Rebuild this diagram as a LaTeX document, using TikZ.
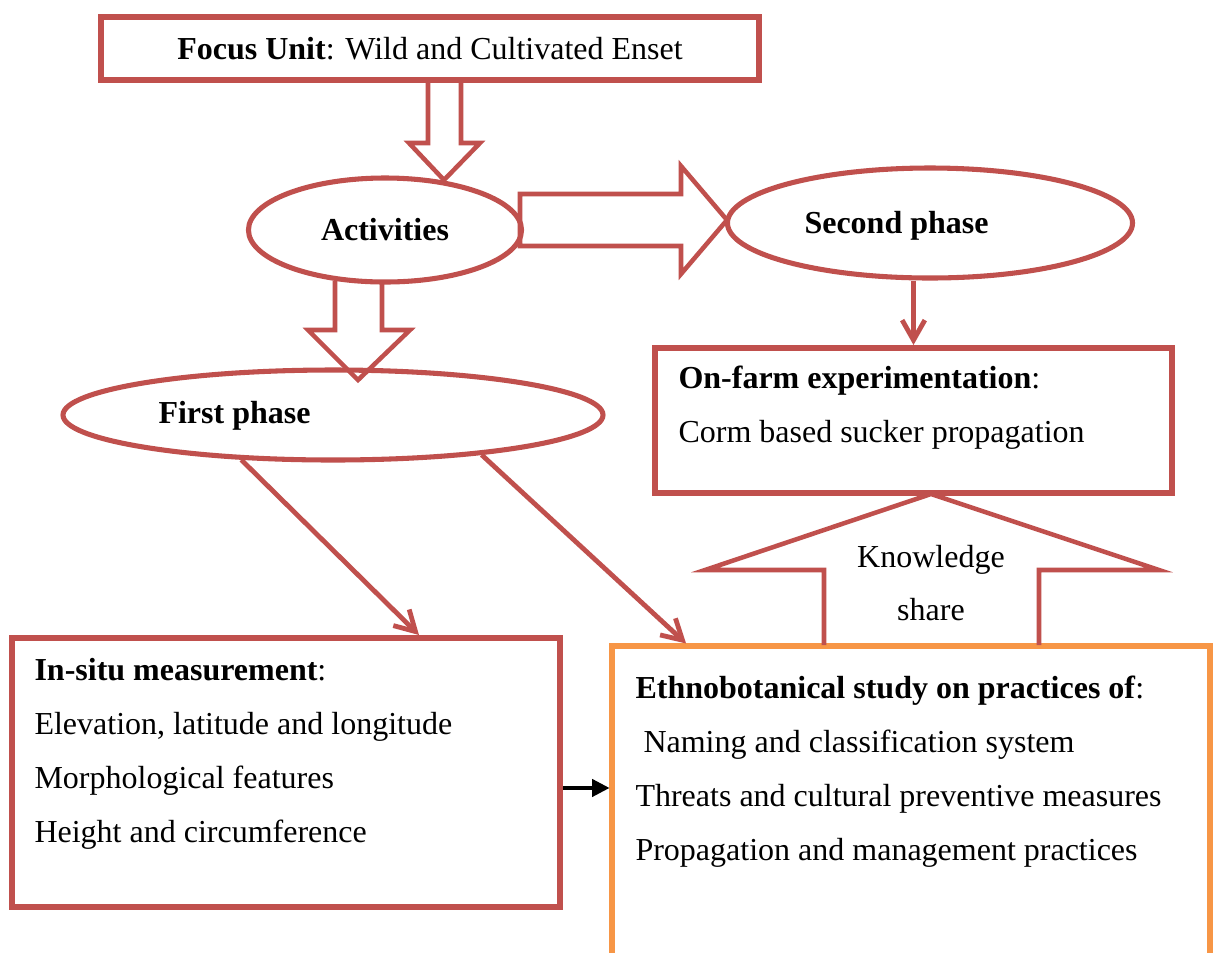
\documentclass[tikz,border=0pt]{standalone}
\usepackage{fontspec}
\setmainfont{Liberation Serif}
\usetikzlibrary{shapes.geometric,arrows.meta,calc}
\definecolor{boxred}{RGB}{192,80,77}
\definecolor{boxorange}{RGB}{247,150,70}
\tikzset{
  redbox/.style={draw=boxred,line width=2.25pt,rectangle,inner sep=0pt},
  orangebox/.style={draw=boxorange,line width=1.9pt,rectangle,inner sep=0pt},
  oval/.style={draw=boxred,line width=1.9pt,ellipse,inner sep=0pt},
  fatarrow/.style={draw=boxred,line width=1.7pt,line join=miter},
  thinarrow/.style={draw=boxred,line width=1.8pt,-{Straight Barb[length=7.5pt,width=8.5pt]}},
  blackarrow/.style={draw=black,line width=1.2pt,-{Triangle[length=6.5pt,width=6.5pt]}},
  txt/.style={anchor=base west,inner sep=0pt},
}

\begin{document}
\begin{tikzpicture}[x=0.375pt,y=-0.375pt,font=\fontsize{12}{14}\selectfont]
\useasboundingbox (0,0) rectangle (1216,952);
\fill[white] (0,0) rectangle (1216,952);

% boxes and ovals
\node[redbox,minimum width=246.4pt,minimum height=23.6pt] (focus) at (430,48.5) {\textbf{Focus Unit}: Wild and Cultivated Enset};
\node[oval,minimum width=102.4pt,minimum height=39pt] (act) at (385,230) {\textbf{Activities}};
\node[oval,minimum width=151.9pt,minimum height=41.25pt] (second) at (930,223) {};
\node[txt] (secondlbl) at (804,233) {\textbf{Second phase}};
\node[oval,minimum width=202.5pt,minimum height=33.75pt] (first) at (333,415) {};
\node[txt] (firstlbl) at (158,423) {\textbf{First phase}};

\node[redbox,minimum width=193.9pt,minimum height=54.4pt] (onfarm) at (913.5,420.5) {};
\node[txt] (onfarm1) at (678,388) {\textbf{On-farm experimentation}:};
\node[txt] (onfarm2) at (678,442) {Corm based sucker propagation};

\node[redbox,minimum width=205.5pt,minimum height=100.9pt] (insitu) at (286,772.5) {};
\node[txt] (ins0) at (34,680) {\textbf{In-situ measurement}:};
\foreach \t [count=\i] in {{Elevation, latitude and longitude},Morphological features,Height and circumference}
  \node[txt] (ins\i) at (34,680+54*\i) {\t};

\node[orangebox,minimum width=224.25pt,minimum height=132.75pt] (ethno) at (911,823) {};
\node[txt] (eth0) at (635,698) {\textbf{Ethnobotanical study on practices of}:};
\foreach \t [count=\i] in {\ Naming and classification system,Threats and cultural preventive measures,Propagation and management practices}
  \node[txt] (eth\i) at (635,698+54*\i) {\t};

% hollow arrows
\draw[fatarrow] (428,80) -- (428,143) -- (409,143) -- (444,180) -- (480,143) -- (461,143) -- (461,80);
\draw[fatarrow] (520,194) -- (681,194) -- (681,166) -- (727,220) -- (681,274) -- (681,246) -- (520,246) -- cycle;
\draw[fatarrow] (335,281) -- (335,330) -- (308,330) -- (358,380) -- (410,330) -- (382,330) -- (382,281);
\draw[fatarrow] (824,645) -- (824,570) -- (705,570) -- (931,494) -- (1159,570) -- (1039,570) -- (1039,645);
\node[anchor=base,inner sep=0pt] (know1) at (931,567) {Knowledge};
\node[anchor=base,inner sep=0pt] (know2) at (931,620) {share};

% connectors
\draw[thinarrow] (onfarm.north |- second.south) -- (onfarm.north);
\draw[thinarrow] (first.206) -- ($(insitu.north west)!0.74!(insitu.north east)$);
\draw[thinarrow] (first.345) -- ($(ethno.north west)!0.127!(ethno.north east)$);
\coordinate (mid) at ([yshift=-5.8pt]insitu.east);
\draw[blackarrow] (mid) -- (mid -| ethno.west);
\end{tikzpicture}
\end{document}
